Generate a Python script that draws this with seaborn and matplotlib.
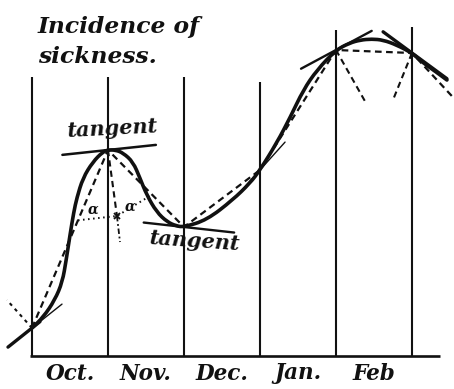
import matplotlib
matplotlib.use("Agg")
import matplotlib.pyplot as plt
from matplotlib.path import Path
from matplotlib.patches import PathPatch
import numpy as np
import pandas as pd
import seaborn as sns

sns.set_theme(style="white")
plt.rcParams["font.family"] = ["DejaVu Serif", "DejaVu Sans"]

# Month names written under the intervals
months = ["Oct.", "Nov.", "Dec.", "Jan.", "Feb"]
# Incidence at the first of each month (Oct 1 ... Apr 1)
month_start = [0, 1, 2, 3, 4, 5, 6]
incidence = [2.8, 20.6, 12.9, 18.6, 30.6, 30.3, 22.1]

# Freehand smooth curve of sickness incidence
curve_t = [0.00, 0.15, 0.30, 0.40, 0.45, 0.50, 0.55, 0.59, 0.67, 0.80, 0.93,
           1.00, 1.10, 1.20, 1.33, 1.42, 1.51, 1.64, 1.78, 1.90, 2.00, 2.30,
           2.64, 2.87, 3.00, 3.22, 3.40, 3.57, 3.75, 4.00, 4.18, 4.32, 4.47,
           4.62, 4.80, 5.00, 5.15, 5.30, 5.46]
curve_v = [2.8, 3.9, 5.6, 7.4, 9.6, 12.1, 14.4, 15.8, 17.8, 19.4, 20.4,
           20.6, 20.6, 20.3, 19.4, 17.8, 16.1, 14.4, 13.4, 13.0, 12.9, 13.6,
           15.6, 17.3, 18.6, 21.3, 23.9, 26.6, 28.6, 30.6, 31.3, 31.6, 31.7,
           31.6, 31.1, 30.3, 29.3, 28.5, 27.6]

# Slope of the tangent drawn at each month line
tangent_slope = [6.05, 0.81, -0.84, 8.46, 4.07, -5.58]

# Height reached by each vertical month line
line_top = [27.9, 27.9, 27.9, 27.4, 32.6, 32.9]

# ---------------------------------------------------------------- layout
fig = plt.figure(figsize=(4.54, 3.89), dpi=100)
ax = fig.add_axes([0, 0, 1, 1])
ax.set_xlim(-0.421, 5.553)
ax.set_ylim(-3.3, 35.6)
ax.set_axis_off()

ink = "#111111"
dash = (3.0, 2.0)

# month lines and base line
ax.vlines(month_start[:6], 0, line_top, color=ink, lw=1.5)
ax.plot([-0.03, 5.37], [0, 0], color=ink, lw=1.9, solid_capstyle="butt")

# dashed chords joining the monthly values
chords = pd.DataFrame({"t": month_start, "v": incidence})
sns.lineplot(data=chords, x="t", y="v", ax=ax, color=ink, lw=1.6,
             estimator=None, sort=False)
ax.lines[-1].set_dashes(dash)

# the smooth curve, drawn as quadratic segments through the traced points
pts = np.column_stack([curve_t, curve_v])
verts = [pts[0], (pts[0] + pts[1]) / 2]
codes = [Path.MOVETO, Path.LINETO]
for i in range(1, len(pts) - 1):
    verts += [pts[i], (pts[i] + pts[i + 1]) / 2]
    codes += [Path.CURVE3, Path.CURVE3]
verts.append(pts[-1])
codes.append(Path.LINETO)
ax.add_patch(PathPatch(Path(verts, codes), facecolor="none", edgecolor=ink,
                       lw=2.6, capstyle="round", joinstyle="round"))

# tangents: (left reach, right reach, width) in months
tangent_reach = [(-0.316, 0.105, 2.4), (-0.60, 0.63, 1.8), (-0.53, 0.66, 1.7),
                 (-0.25, 0.33, 1.0), (-0.46, 0.47, 1.7), (-0.38, 0.46, 2.4)]
for i, (lo, hi, w) in enumerate(tangent_reach):
    s = tangent_slope[i]
    v0 = incidence[i]
    ax.plot([i + lo, i + hi], [v0 + s * lo, v0 + s * hi], color=ink, lw=w,
            solid_capstyle="round")
# thin continuation of the October tangent
ax.plot([0.105, 0.395], [incidence[0] + tangent_slope[0] * 0.105,
                         incidence[0] + tangent_slope[0] * 0.395],
        color=ink, lw=1.0)

# normals dropped from the month points
ax.plot([0, -0.33], [incidence[0], incidence[0] + 2.8], color=ink, lw=1.5,
        dashes=(1.6, 2.0))
nov_end = (1 + 0.118, incidence[1] - 6.6)
ax.plot([1, nov_end[0]], [incidence[1], nov_end[1]], color=ink, lw=1.5,
        dashes=dash)
ax.plot([nov_end[0], 1 + 0.158], [nov_end[1], incidence[1] - 9.2],
        color=ink, lw=1.3, dashes=(3, 1.5, 1, 1.5))
ax.plot([4, 4 + 0.395], [incidence[4], incidence[4] - 5.3], color=ink,
        lw=1.5, dashes=dash)
ax.plot([5, 5 - 0.25], [incidence[5], incidence[5] - 4.7], color=ink,
        lw=1.5, dashes=dash)

# dotted cross line marking the two equal angles at November
left_t = 0.605
left_v = incidence[0] + left_t * (incidence[1] - incidence[0])
right_t = 1.58
right_v = incidence[1] + (right_t - 1) * (incidence[2] - incidence[1])
ax.plot([left_t, nov_end[0], right_t], [left_v, nov_end[1], right_v],
        color=ink, lw=1.4, dashes=(0.8, 1.8))
ax.plot(*nov_end, marker="x", ms=4, mew=1.3, color=ink)

text_kw = dict(color=ink, family=["DejaVu Serif"], style="italic",
               weight="bold")
ax.text(0.80, 14.6, "α", fontsize=10, ha="center", va="center", **text_kw)
ax.text(1.29, 14.9, "α", fontsize=10, ha="center", va="center", **text_kw)

ax.text(1.06, 22.7, "tangent", fontsize=15, ha="center", va="center",
        rotation=3, **text_kw)
ax.text(2.15, 11.5, "tangent", fontsize=15, ha="center", va="center",
        rotation=-4, **text_kw)

for i, name in enumerate(months):
    ax.text(i + 0.5, -1.75, name, fontsize=15.5, ha="center", va="center",
            **text_kw)

fig.text(38 / 454, 1 - 33 / 389, "Incidence of", fontsize=16.8,
         ha="left", va="baseline", **text_kw)
fig.text(38 / 454, 1 - 63 / 389, "sickness.", fontsize=16.8,
         ha="left", va="baseline", **text_kw)

fig.savefig("out.png", dpi=100, facecolor="white")
